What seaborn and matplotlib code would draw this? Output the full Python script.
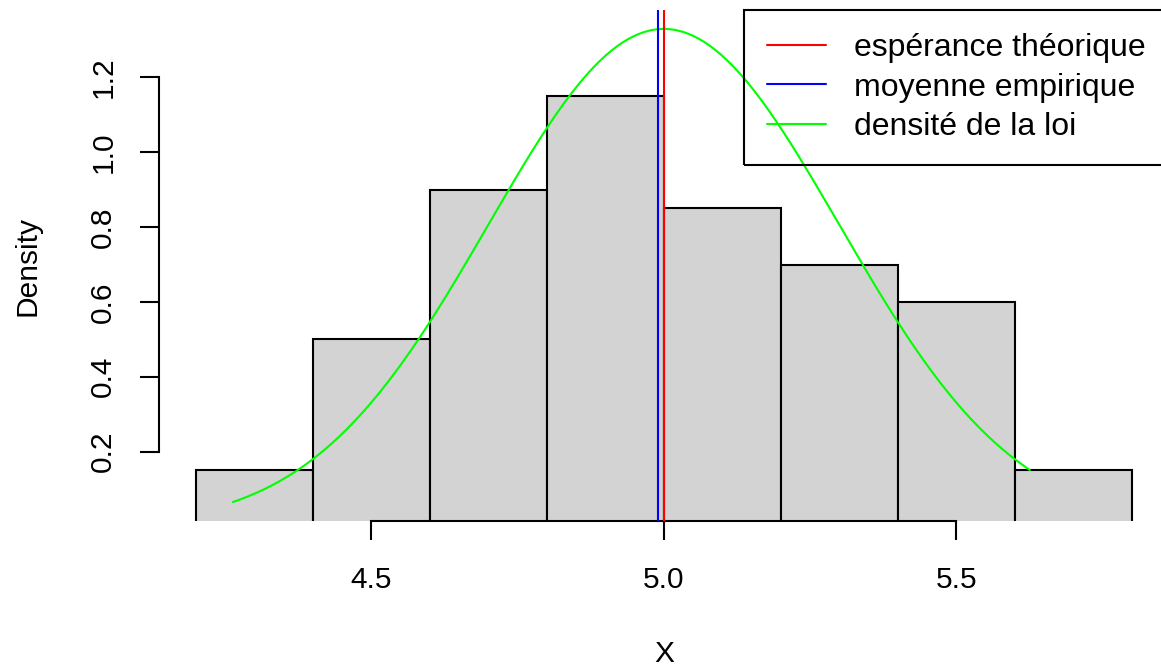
import numpy as np
import matplotlib
matplotlib.use("Agg")
import matplotlib.pyplot as plt
from matplotlib.lines import Line2D
import seaborn as sns

# histogram: bin edges and densities
bin_edges = [4.2, 4.4, 4.6, 4.8, 5.0, 5.2, 5.4, 5.6, 5.8]
bin_density = [0.15, 0.5, 0.9, 1.15, 0.85, 0.7, 0.6, 0.15]

# theoretical law N(mu, sigma) and empirical mean
mu = 5.0
sigma = 0.3
sample_mean = 4.99
sample_min = 4.263
sample_max = 5.626

x_ticks = [4.5, 5.0, 5.5]
x_tick_labels = ["4.5", "5.0", "5.5"]
y_ticks = [0.2, 0.4, 0.6, 0.8, 1.0, 1.2]
y_tick_labels = ["0.2", "0.4", "0.6", "0.8", "1.0", "1.2"]

legend_labels = ["espérance théorique", "moyenne empirique", "densité de la loi"]

sns.set_theme(style="white")
plt.rcParams["font.family"] = ["Liberation Sans", "DejaVu Sans"]

fig = plt.figure(figsize=(11.61, 6.68), dpi=100)
W, H = 1161, 668
left_px, right_px, top_px, bottom_px = 158.6, 1169.0, 10.0, 521.0
ax = fig.add_axes([left_px / W, (H - bottom_px) / H,
                   (right_px - left_px) / W, (bottom_px - top_px) / H])

centers = [(a + b) / 2 for a, b in zip(bin_edges[:-1], bin_edges[1:])]
sns.histplot(x=centers, weights=bin_density, bins=bin_edges, stat="count",
             color="#D3D3D3", edgecolor="black", linewidth=1.5, alpha=1,
             ax=ax)
for p in ax.patches:
    p.set_facecolor("#D3D3D3")

# density curve of the law over the sample range
xs = np.linspace(sample_min, sample_max, 300)
ys = np.exp(-0.5 * ((xs - mu) / sigma) ** 2) / (sigma * np.sqrt(2 * np.pi))
sns.lineplot(x=xs, y=ys, color="#00FF00", linewidth=1.5, ax=ax, zorder=4)

ax.axvline(mu, color="#FF0000", linewidth=1.5, zorder=5)
ax.axvline(sample_mean, color="#0000FF", linewidth=1.5, zorder=5)

ax.set_xlim(4.136, 5.864)
ax.set_ylim(0.0144, 1.3804)

for s in ["top", "right"]:
    ax.spines[s].set_visible(False)
for s in ["left", "bottom"]:
    ax.spines[s].set_color("black")
    ax.spines[s].set_linewidth(1.5)
ax.spines["bottom"].set_bounds(x_ticks[0], x_ticks[-1])
ax.spines["left"].set_bounds(y_ticks[0], y_ticks[-1])

fs = 21.5
ax.set_xticks(x_ticks)
ax.set_xticklabels(x_tick_labels, fontsize=fs)
ax.set_yticks(y_ticks)
ax.set_yticklabels(y_tick_labels, fontsize=fs, rotation=90, va="center")
ax.tick_params(axis="both", direction="out", length=13.7, width=1.5,
               color="black", labelcolor="black", bottom=True, left=True)
ax.tick_params(axis="x", pad=19)
ax.tick_params(axis="y", pad=16)

ax.set_xlabel("X", fontsize=fs, color="black")
ax.set_ylabel("Density", fontsize=fs, color="black")
ax.xaxis.set_label_coords(0.5, -0.232)
ax.yaxis.set_label_coords(-0.116, 0.5)

handles = [Line2D([0], [0], color="#FF0000", lw=1.5),
           Line2D([0], [0], color="#0000FF", lw=1.5),
           Line2D([0], [0], color="#00FF00", lw=1.5)]
leg = ax.legend(handles, legend_labels, loc="upper right",
                bbox_to_anchor=(1, 1), borderaxespad=0, fontsize=23,
                frameon=True, fancybox=False,
                handlelength=1.85, handletextpad=0.9,
                labelspacing=0.3, borderpad=0.72)
frame = leg.get_frame()
frame.set_facecolor("none")
frame.set_edgecolor("black")
frame.set_linewidth(1.5)
frame.set_alpha(None)
for t in leg.get_texts():
    t.set_color("black")

fig.savefig("out.png", dpi=100)
